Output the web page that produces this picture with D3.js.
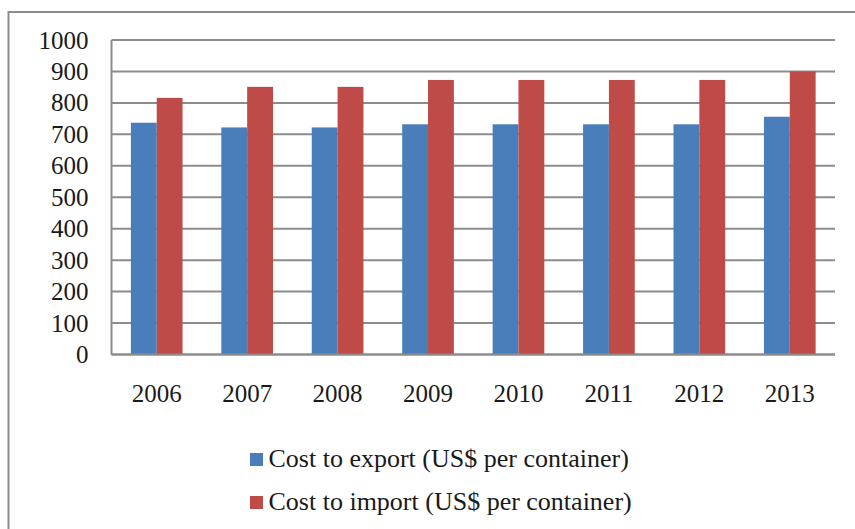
<!DOCTYPE html>
<meta charset="utf-8">
<html>
<head>
<title>Cost to export / import</title>
<script src="https://d3js.org/d3.v7.min.js"></script>
</head>
<style>
  body {margin: 0; background: #fff; font-family: "Liberation Serif", "DejaVu Serif", serif;}
  .axis text {font: 25px "Liberation Serif", serif; fill: #1a1a1a;}
  .legend text {font: 26px "Liberation Serif", serif; fill: #1a1a1a;}
  .grid line {stroke: #8c8c8c; stroke-width: 2px;}
</style>
<body>
<svg id="chart" width="855" height="529"></svg>
<script>
var years = ["2006", "2007", "2008", "2009", "2010", "2011", "2012", "2013"];
var exportCost = [737, 722, 722, 732, 732, 732, 732, 756];
var importCost = [816, 851, 851, 873, 873, 873, 873, 900];
var seriesNames = ["Cost to export (US$ per container)", "Cost to import (US$ per container)"];
var colors = ["#4A7EBB", "#BE4B48"];
var yTicks = [0, 100, 200, 300, 400, 500, 600, 700, 800, 900, 1000];

var svg = d3.select("#chart"),
    margin = {top: 40, left: 111.5, right: 20},
    width = 835 - margin.left,
    height = 354.5 - margin.top;

// chart frame (runs off the right and bottom of the picture)
svg.append("rect")
    .attr("x", 8.5).attr("y", 12)
    .attr("width", 900).attr("height", 600)
    .attr("fill", "none")
    .attr("stroke", "#8c8c8c")
    .attr("stroke-width", 2);

// gap width 150% like the spreadsheet default
var x = d3.scaleBand().domain(years).range([0, width]).paddingInner(1.5 / 3.5).paddingOuter(0.75 / 3.5);
var x1 = d3.scaleBand().domain([0, 1]).range([0, x.bandwidth()]);
var y = d3.scaleLinear().domain([0, 1000]).range([height, 0]);

var g = svg.append("g")
    .attr("transform", "translate(" + margin.left + "," + margin.top + ")");

g.append("g")
    .attr("class", "grid")
    .selectAll("line")
    .data(yTicks)
    .enter().append("line")
    .attr("x1", 0).attr("x2", width)
    .attr("y1", function(d) { return y(d); })
    .attr("y2", function(d) { return y(d); });

var rows = years.map(function(yr, i) { return {year: yr, vals: [exportCost[i], importCost[i]]}; });

g.selectAll(".year")
    .data(rows)
    .enter().append("g")
    .attr("transform", function(d) { return "translate(" + x(d.year) + ",0)"; })
    .selectAll("rect")
    .data(function(d) { return d.vals; })
    .enter().append("rect")
    .attr("x", function(d, i) { return x1(i); })
    .attr("width", x1.bandwidth())
    .attr("y", function(d) { return y(d); })
    .attr("height", function(d) { return height - y(d); })
    .attr("fill", function(d, i) { return colors[i]; });

// axes lines
g.append("line").attr("x1", 0).attr("x2", 0).attr("y1", 0).attr("y2", height)
    .attr("stroke", "#8c8c8c").attr("stroke-width", 2);
g.append("line").attr("x1", 0).attr("x2", width).attr("y1", height).attr("y2", height)
    .attr("stroke", "#8c8c8c").attr("stroke-width", 2);

var yAxis = d3.axisLeft(y).tickValues(yTicks).tickFormat(d3.format("d")).tickSize(0).tickPadding(23);
g.append("g").attr("class", "axis").call(yAxis)
    .call(function(s) { s.select(".domain").remove(); });

var xAxis = d3.axisBottom(x).tickSize(0).tickPadding(30);
g.append("g").attr("class", "axis")
    .attr("transform", "translate(0," + height + ")")
    .call(xAxis)
    .call(function(s) { s.select(".domain").remove(); });

var legend = svg.append("g").attr("class", "legend")
    .selectAll("g")
    .data(seriesNames)
    .enter().append("g")
    .attr("transform", function(d, i) { return "translate(250," + (453 + i * 43) + ")"; });

legend.append("rect")
    .attr("width", 13).attr("height", 13)
    .attr("fill", function(d, i) { return colors[i]; });

legend.append("text")
    .attr("x", 18.5).attr("y", 13.5)
    .text(function(d) { return d; });
</script>
</body>
</html>
